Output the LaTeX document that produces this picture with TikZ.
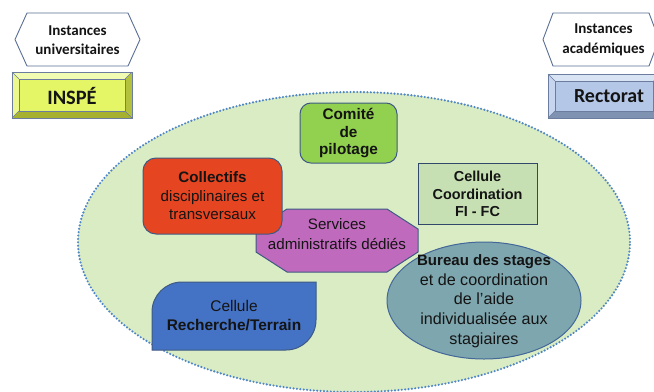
\documentclass[tikz,border=0pt]{standalone}
\usepackage{fontspec}
\setmainfont{Liberation Sans}
\newfontfamily\calibrifont{Carlito}
\definecolor{ellfill}{HTML}{DAECC4}
\definecolor{ellline}{HTML}{4F86C6}
\definecolor{hexline}{HTML}{5A6E96}
\definecolor{inspeface}{HTML}{E4F665}
\definecolor{inspetop}{HTML}{F2FBB2}
\definecolor{inspeleft}{HTML}{ECF78C}
\definecolor{inspered}{HTML}{B4C13C}
\definecolor{inspebot}{HTML}{A6B22F}
\definecolor{rectface}{HTML}{B4C7E7}
\definecolor{recttop}{HTML}{D8E3F4}
\definecolor{rectleft}{HTML}{C7D6EE}
\definecolor{rectright}{HTML}{8C9EBD}
\definecolor{rectbot}{HTML}{8092B1}
\definecolor{bevline}{HTML}{6C7C9E}
\definecolor{comitefill}{HTML}{92D050}
\definecolor{collfill}{HTML}{E64522}
\definecolor{servfill}{HTML}{C06ABD}
\definecolor{coordfill}{HTML}{C6E0B4}
\definecolor{burfill}{HTML}{7EA6AE}
\definecolor{rechfill}{HTML}{4472C4}
\definecolor{shapeline}{HTML}{3E5A84}
\definecolor{txtcol}{HTML}{141414}
\begin{document}
\begin{tikzpicture}[x=1bp,y=1bp,
  txt/.style={align=center, text=txtcol, inner sep=0pt},
  shp/.style={draw=shapeline, line width=1}]
\useasboundingbox (0,0) rectangle (654,-391);
\fill[white] (0,0) rectangle (654,-391);

% big ellipse
\draw[fill=ellfill, draw=ellline, line width=2.4, dash pattern=on 0pt off 3.4pt, line cap=round]
  (354,-242) ellipse[x radius=276, y radius=150];

% hexagons
\draw[fill=white, draw=hexline, line width=0.9]
  (15,-39.5) -- (27,-13) -- (128,-13) -- (140,-39.5) -- (128,-66) -- (27,-66) -- cycle;
\node[txt, font=\calibrifont\bfseries\fontsize{15.1}{19.5}\selectfont] (instu) at (77.5,-40) {Instances\\universitaires};
\draw[fill=white, draw=hexline, line width=0.9]
  (543,-39.5) -- (553,-13) -- (649,-13) -- (659,-39.5) -- (649,-66) -- (553,-66) -- cycle;
\node[txt, font=\calibrifont\bfseries\fontsize{15.1}{19.5}\selectfont] (insta) at (603.5,-40) {Instances\\académiques};

% INSPE bevel box
\fill[inspeface] (19,-79) rectangle (125,-111);
\fill[inspetop] (12,-72) -- (132,-72) -- (125,-79) -- (19,-79) -- cycle;
\fill[inspeleft] (12,-72) -- (19,-79) -- (19,-111) -- (12,-118) -- cycle;
\fill[inspered] (132,-72) -- (132,-118) -- (125,-111) -- (125,-79) -- cycle;
\fill[inspebot] (12,-118) -- (132,-118) -- (125,-111) -- (19,-111) -- cycle;
\draw[bevline, line width=0.6] (12,-72) -- (19,-79) (132,-72) -- (125,-79) (12,-118) -- (19,-111) (132,-118) -- (125,-111);
\draw[bevline, line width=0.6] (19,-79) rectangle (125,-111);
\draw[bevline, line width=1] (12,-72) rectangle (132,-118);
\node[txt, font=\calibrifont\bfseries\fontsize{20.5}{24}\selectfont] (inspe) at (72,-96) {INSPÉ};

% Rectorat bevel box
\fill[rectface] (555,-81) rectangle (653,-111);
\fill[recttop] (548,-74) -- (660,-74) -- (653,-81) -- (555,-81) -- cycle;
\fill[rectleft] (548,-74) -- (555,-81) -- (555,-111) -- (548,-118) -- cycle;
\fill[rectright] (660,-74) -- (660,-118) -- (653,-111) -- (653,-81) -- cycle;
\fill[rectbot] (548,-118) -- (660,-118) -- (653,-111) -- (555,-111) -- cycle;
\draw[bevline, line width=0.6] (548,-74) -- (555,-81) (548,-118) -- (555,-111);
\draw[bevline, line width=0.6] (555,-81) rectangle (653,-111);
\draw[bevline, line width=1] (548,-74) rectangle (660,-118);
\node[txt, font=\calibrifont\bfseries\fontsize{20}{24}\selectfont] (rect) at (609,-96) {Rectorat};

% Comite
\draw[shp, fill=comitefill, rounded corners=11] (300,-103) rectangle (397,-163);
\node[txt, font=\bfseries\fontsize{15.4}{18}\selectfont] (comite) at (348.5,-133) {Comité\\de\\pilotage};

% Cellule coordination
\draw[draw=shapeline!80!black, line width=1, fill=coordfill] (418,-163) rectangle (537,-224);
\node[txt, font=\bfseries\fontsize{14.5}{17.5}\selectfont] (coord) at (477.5,-194) {Cellule\\Coordination\\FI - FC};

% Services
\draw[shp, fill=servfill] (287,-209) -- (387,-209) -- (418,-229) -- (418,-252) -- (387,-272)
  -- (287,-272) -- (256,-252) -- (256,-229) -- cycle;
\node[txt, font=\fontsize{15.2}{20}\selectfont] (serv) at (337,-234) {Services\\administratifs dédiés};

% Collectifs
\draw[shp, fill=collfill, rounded corners=13] (143,-158) rectangle (282,-234);
\node[txt, font=\fontsize{15.2}{18.5}\selectfont] (coll) at (212.5,-196) {\textbf{Collectifs}\\disciplinaires et\\transversaux};

% Bureau
\draw[shp, draw=shapeline!70!ellline, fill=burfill] (484,-300.5) ellipse[x radius=97, y radius=58.5];
\node[txt, font=\fontsize{16.2}{19.7}\selectfont] (bur) at (484,-301) {{\bfseries\fontsize{15.1}{19.7}\selectfont Bureau des stages}\\et de coordination\\de l’aide\\individualisée aux\\stagiaires};

% Recherche
\draw[shp, fill=rechfill] (316,-282) -- (182,-282) arc[start angle=90, end angle=180, radius=30]
  -- (152,-350) -- (286,-350) arc[start angle=270, end angle=360, radius=30] -- cycle;
\node[txt, font=\fontsize{15.5}{19}\selectfont] (rech) at (234,-316) {Cellule\\\textbf{Recherche/Terrain}};
\end{tikzpicture}
\end{document}
